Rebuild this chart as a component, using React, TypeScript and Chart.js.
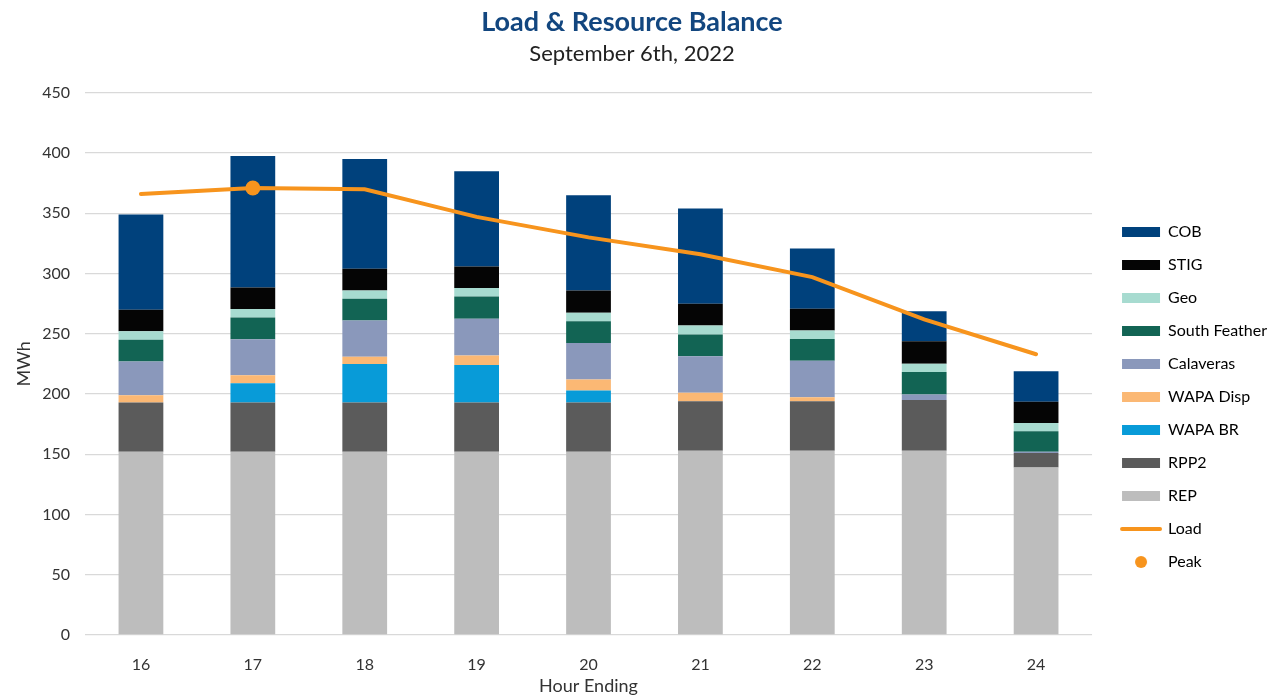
import { useEffect, useRef } from "react";
import { Chart, registerables } from "chart.js";

Chart.register(...registerables);

// ---- data ----
const hours = ["16", "17", "18", "19", "20", "21", "22", "23", "24"];
const rep = [152, 152, 152, 152, 152, 153, 153, 153, 139];
const rpp2 = [41, 41, 41, 41, 41, 41, 41, 42, 12];
const wapaBr = [0, 16, 32, 31, 10, 0, 0, 0, 0];
const wapaDisp = [6, 6.5, 6, 8, 9, 7, 3.4, 0, 0];
const calaveras = [28, 30, 30, 30.4, 30.4, 30.4, 30.3, 4.7, 1];
const southFeather = [18, 18, 18, 18.5, 18, 18, 18, 18.5, 17];
const geo = [7, 7, 7, 7, 7, 7.5, 7, 7, 7];
const stig = [18, 18, 18, 18, 18.5, 18, 18, 18.5, 17.5];
const cob = [79, 109, 91, 79, 79, 79, 50, 25, 25.4];
const load = [366, 371, 370, 347, 330, 316, 297, 262, 233];
const peak = [null, 371, null, null, null, null, null, null, null];
const yTicks = { min: 0, max: 450, step: 50 };

const ORANGE = "#f7941d";
const FONT = "Lato";

export default function App() {
  const ref = useRef<HTMLCanvasElement>(null);

  useEffect(() => {
    document.body.style.margin = "0";
    const canvas = ref.current;
    if (!canvas) return;

    const dot = document.createElement("canvas");
    dot.width = 14;
    dot.height = 14;
    const dctx = dot.getContext("2d")!;
    dctx.fillStyle = ORANGE;
    dctx.beginPath();
    dctx.arc(7, 7, 6, 0, Math.PI * 2);
    dctx.fill();

    const barSeries = [
      { label: "REP", data: rep, color: "#bdbdbd" },
      { label: "RPP2", data: rpp2, color: "#5b5b5b" },
      { label: "WAPA BR", data: wapaBr, color: "#089bd8" },
      { label: "WAPA Disp", data: wapaDisp, color: "#fbb874" },
      { label: "Calaveras", data: calaveras, color: "#8a98bb" },
      { label: "South Feather", data: southFeather, color: "#126454" },
      { label: "Geo", data: geo, color: "#a7dbd0" },
      { label: "STIG", data: stig, color: "#050505" },
      { label: "COB", data: cob, color: "#00417c" },
    ];

    const datasets: any[] = [
      ...barSeries.map((s) => ({
        type: "bar",
        label: s.label,
        data: s.data,
        backgroundColor: s.color,
        stack: "res",
        order: 1,
        barPercentage: 0.4,
        categoryPercentage: 1,
      })),
      {
        type: "line",
        label: "Load",
        data: load,
        borderColor: ORANGE,
        backgroundColor: ORANGE,
        borderWidth: 4,
        borderCapStyle: "round",
        pointRadius: 0,
        tension: 0,
        stack: "load",
        order: 0,
      },
      {
        type: "line",
        label: "Peak",
        data: peak,
        showLine: false,
        pointRadius: 7.5,
        pointBackgroundColor: ORANGE,
        pointBorderWidth: 0,
        backgroundColor: ORANGE,
        borderColor: ORANGE,
        stack: "peak",
        order: 0,
      },
    ];

    const shiftLegend = {
      id: "shiftLegend",
      afterLayout(chart: any) {
        const l = chart.legend;
        if (!l) return;
        l.left += 13;
        l.right += 13;
        l.top += 47;
        l.bottom += 47;
      },
    };

    Chart.defaults.font.family = FONT;
    Chart.defaults.color = "#333333";

    const chart = new Chart(canvas, {
      type: "bar",
      data: { labels: hours, datasets },
      plugins: [shiftLegend],
      options: {
        responsive: false,
        animation: false,
        layout: { padding: { right: 10, top: 0, left: 0, bottom: 0 } },
        plugins: {
          title: {
            display: true,
            text: "Load & Resource Balance",
            color: "#12467f",
            font: { family: FONT, size: 27, weight: "bold" },
            padding: { top: 6, bottom: 2 },
          },
          subtitle: {
            display: true,
            text: "September 6th, 2022",
            color: "#222222",
            font: { family: FONT, size: 22 },
            padding: { top: 0, bottom: 26 },
          },
          tooltip: { enabled: false },
          legend: {
            position: "right",
            labels: {
              usePointStyle: true,
              pointStyleWidth: 38,
              boxHeight: 10,
              padding: 17,
              color: "#333333",
              font: { family: FONT, size: 16 },
              generateLabels: (ch: any) => {
                const ds = ch.data.datasets;
                const items: any[] = [];
                for (let i = ds.length - 1; i >= 0; i--) {
                  const d = ds[i];
                  if (d.type === "bar") {
                    items.push({
                      text: d.label,
                      fillStyle: d.backgroundColor,
                      strokeStyle: d.backgroundColor,
                      lineWidth: 0,
                      pointStyle: "rect",
                      hidden: false,
                      datasetIndex: i,
                    });
                  }
                }
                const li = ds.findIndex((d: any) => d.label === "Load");
                const pi = ds.findIndex((d: any) => d.label === "Peak");
                items.push({
                  text: "Load",
                  fillStyle: ORANGE,
                  strokeStyle: ORANGE,
                  lineWidth: 4,
                  lineCap: "round",
                  pointStyle: "line",
                  hidden: false,
                  datasetIndex: li,
                });
                items.push({
                  text: "Peak",
                  fillStyle: ORANGE,
                  strokeStyle: ORANGE,
                  lineWidth: 0,
                  pointStyle: dot,
                  hidden: false,
                  datasetIndex: pi,
                });
                return items;
              },
            },
          },
        },
        scales: {
          x: {
            stacked: true,
            grid: { display: false },
            border: { display: false },
            ticks: { font: { family: FONT, size: 16 }, padding: 12, color: "#333333" },
            title: {
              display: true,
              text: "Hour Ending",
              font: { family: FONT, size: 18 },
              color: "#333333",
              padding: { top: 8, bottom: 3 },
            },
            afterFit: (s: any) => {
              s.height = 65;
            },
          },
          y: {
            stacked: true,
            min: yTicks.min,
            max: yTicks.max,
            grid: { color: "#d9d9d9", lineWidth: 1.3, drawTicks: false },
            border: { display: false },
            ticks: {
              stepSize: yTicks.step,
              padding: 15,
              font: { family: FONT, size: 16 },
              color: "#333333",
            },
            title: {
              display: true,
              text: "MWh",
              font: { family: FONT, size: 18 },
              color: "#333333",
              padding: { top: 13, bottom: 0 },
            },
            afterFit: (s: any) => {
              s.width = 85;
            },
          },
        },
      },
    } as any);

    return () => chart.destroy();
  }, []);

  return <canvas ref={ref} width={1274} height={700} style={{ display: "block" }} />;
}
